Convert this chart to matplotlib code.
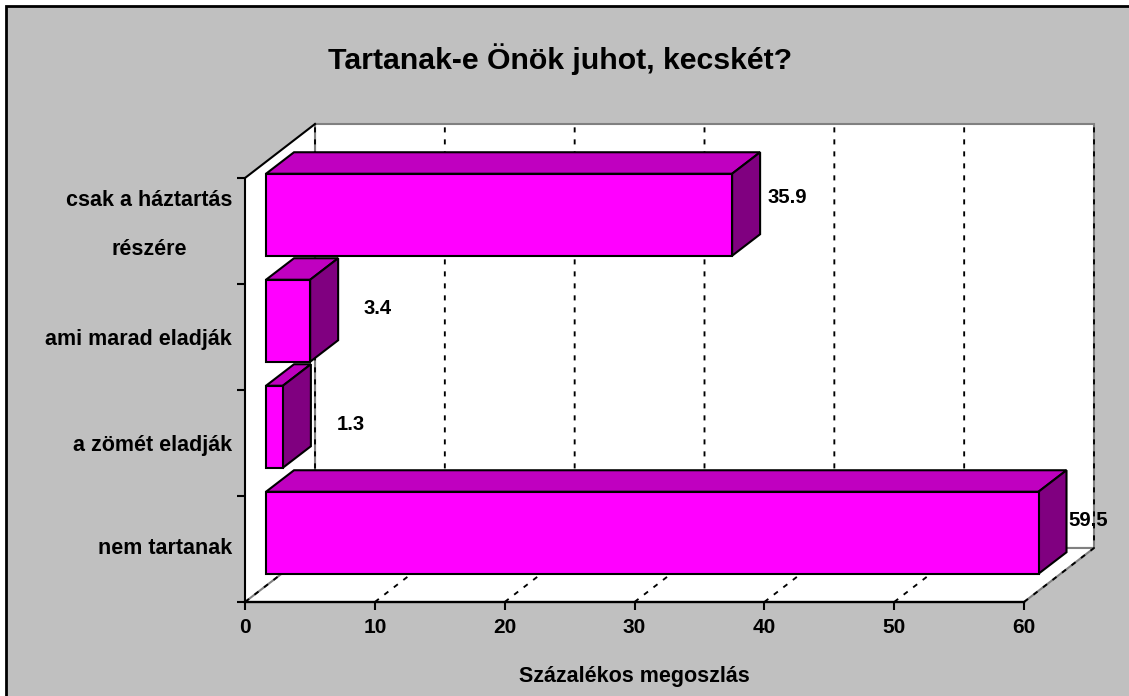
import matplotlib

matplotlib.use("Agg")
import matplotlib.pyplot as plt
from matplotlib.patches import Polygon, Rectangle

plt.rcParams["font.family"] = ["Liberation Sans", "DejaVu Sans"]
plt.rcParams["font.weight"] = "bold"

TITLE = "Tartanak-e Önök juhot, kecskét?"
XLABEL = "Százalékos megoszlás"
categories = ["nem tartanak", "a zömét eladják", "ami marad eladják", "csak a háztartás\nrészére"]
values = [59.5, 1.3, 3.4, 35.9]
value_labels = ["59.5", "1.3", "3.4", "35.9"]
xticks = [0, 10, 20, 30, 40, 50, 60]

W, H = 1129, 696
# elle olculen piksel yerlesimi
LEFT, RIGHT, BOTTOM, TOP = 245, 1024, 602, 178
PX_X = (RIGHT - LEFT) / 60
PX_Y = (BOTTOM - TOP) / 4
DEPTH_X = 70 / PX_X
DEPTH_Y = 54 / PX_Y
BAR_DX = 28 / PX_X
BAR_DY = 21.5 / PX_Y
BAR_H = 82 / PX_Y
LABEL_GAP_PX = [2, 26, 25, 7]
LABEL_DY_PX = [12, 2, 12, 17.5]
CAT_DY_PX = [0, -3, -3, 6]

FRONT, TOPC, SIDE = "#FF00FF", "#C000C0", "#800080"
GREY = "#808080"
LW = 1.5

fig = plt.figure(figsize=(W / 100, H / 100), dpi=100, facecolor="white")
fig.patches.append(Rectangle((6 / W, -0.02), 1.02, 1 - 6 / H + 0.02, transform=fig.transFigure,
                             facecolor="#C0C0C0", edgecolor="black", linewidth=2, figure=fig, zorder=-1))

ax = fig.add_axes([LEFT / W, 1 - BOTTOM / H, (RIGHT - LEFT) / W, (BOTTOM - TOP) / H])
ax.set_xlim(0, 60)
ax.set_ylim(0, 4)
ax.patch.set_visible(False)
ax.spines["top"].set_visible(False)
ax.spines["right"].set_visible(False)
ax.spines["left"].set_linewidth(LW)
ax.spines["bottom"].set_linewidth(1.7)

# arka duvar, yan duvar, taban
ax.add_patch(Polygon([(DEPTH_X, DEPTH_Y), (60 + DEPTH_X, DEPTH_Y), (60 + DEPTH_X, 4 + DEPTH_Y), (DEPTH_X, 4 + DEPTH_Y)],
                     facecolor="white", edgecolor=GREY, lw=LW, clip_on=False, zorder=0.5))
ax.add_patch(Polygon([(0, 0), (DEPTH_X, DEPTH_Y), (DEPTH_X, 4 + DEPTH_Y), (0, 4)],
                     facecolor="white", edgecolor="none", clip_on=False, zorder=0.6))
ax.add_patch(Polygon([(0, 0), (60, 0), (60 + DEPTH_X, DEPTH_Y), (DEPTH_X, DEPTH_Y)],
                     facecolor="white", edgecolor="none", clip_on=False, zorder=0.6))
ax.plot([0, DEPTH_X, 60 + DEPTH_X, 60], [0, DEPTH_Y, DEPTH_Y, 0], color=GREY, lw=LW, clip_on=False, zorder=0.7)
ax.plot([DEPTH_X, DEPTH_X], [DEPTH_Y, 4 + DEPTH_Y], color=GREY, lw=LW, clip_on=False, zorder=0.7)
ax.plot([0, DEPTH_X], [4, 4 + DEPTH_Y], color="black", lw=LW, clip_on=False, zorder=0.8)

# kesikli izgara: taban + arka duvar
dash = (0, (2.7, 3.7))
for t in xticks:
    ax.plot([t, t + DEPTH_X, t + DEPTH_X], [0, DEPTH_Y, 4 + DEPTH_Y], color="black", lw=1.35,
            linestyle=dash, clip_on=False, zorder=1)

# 3B cubuklar
x0 = (DEPTH_X - BAR_DX) / 2
y_off = (1 - BAR_H) / 2 + (DEPTH_Y - BAR_DY) / 2
for i, v in enumerate(values):
    y0 = i + y_off
    x1 = x0 + v
    y1 = y0 + BAR_H
    kw = dict(edgecolor="black", lw=LW, joinstyle="miter", clip_on=False, zorder=2 + (3 - i) * 0.1)
    ax.add_patch(Polygon([(x0, y1), (x1, y1), (x1 + BAR_DX, y1 + BAR_DY), (x0 + BAR_DX, y1 + BAR_DY)], facecolor=TOPC, **kw))
    ax.add_patch(Polygon([(x1, y0), (x1 + BAR_DX, y0 + BAR_DY), (x1 + BAR_DX, y1 + BAR_DY), (x1, y1)], facecolor=SIDE, **kw))
    ax.add_patch(Polygon([(x0, y0), (x1, y0), (x1, y1), (x0, y1)], facecolor=FRONT, **kw))
    ax.text(x1 + BAR_DX + LABEL_GAP_PX[i] / PX_X, y0 + BAR_H / 2 + LABEL_DY_PX[i] / PX_Y, value_labels[i],
            fontsize=14.6, fontweight="bold", ha="left", va="center", zorder=5, clip_on=False)
    ax.text(-13 / PX_X, i + 0.5 + CAT_DY_PX[i] / PX_Y, categories[i], fontsize=15.5, fontweight="bold",
            ha="right", va="center", multialignment="center", linespacing=2.7, clip_on=False)

ax.set_xticks(xticks)
ax.tick_params(axis="x", length=5.8, width=LW, labelsize=15, pad=6)
ax.set_yticks(range(5))
ax.set_yticklabels([])
ax.tick_params(axis="y", length=5.8, width=LW)
ax.set_xlabel(XLABEL, fontsize=15.5, fontweight="bold")
ax.xaxis.set_label_coords(0.4994, -0.176)
ax.xaxis.label.set_va("center")

fig.text(560 / W, 1 - 59 / H, TITLE, fontsize=21.75, fontweight="bold", ha="center", va="center")

fig.savefig("out.png", dpi=100)
plt.close(fig)
